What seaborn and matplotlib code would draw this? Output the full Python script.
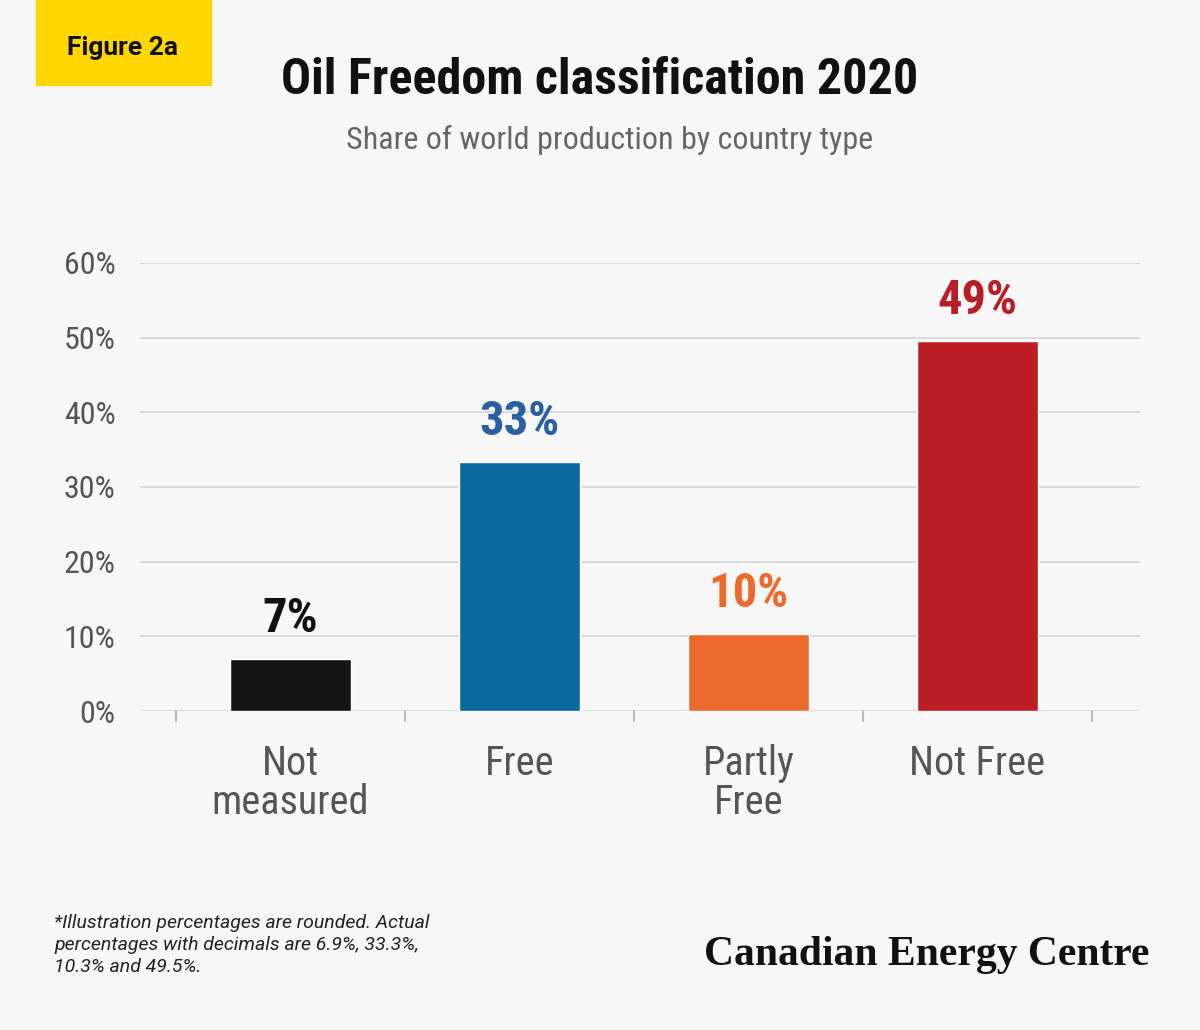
import matplotlib
matplotlib.use("Agg")
import matplotlib.pyplot as plt
import seaborn as sns
import pandas as pd
from matplotlib.patches import Rectangle

categories = ["Not\nmeasured", "Free", "Partly\nFree", "Not Free"]
shares = [6.9, 33.3, 10.3, 49.5]
labels = ["7%", "33%", "10%", "49%"]
bar_colors = ["#161616", "#0a6aa0", "#ec6a2e", "#bd1e26"]
label_colors = ["#111111", "#2a5fa0", "#ec6a2e", "#b81e26"]
yticks = [0, 10, 20, 30, 40, 50, 60]

sns.set_style("white")
cond = ["Roboto Condensed", "Roboto", "DejaVu Sans"]
plt.rcParams["font.family"] = cond

bg = "#f7f7f7"
fig = plt.figure(figsize=(12, 10.3), dpi=100, facecolor=bg)
ax = fig.add_axes([0.117, 0.3097, 0.833, 0.435], facecolor=bg)

df = pd.DataFrame({"cat": categories, "share": shares})
sns.barplot(data=df, x="cat", y="share", hue="cat", palette=bar_colors,
            saturation=1, width=0.53, legend=False, ax=ax, zorder=3)

ax.set_ylim(0, 60)
ax.set_xlim(-0.655, 3.71)
ax.set_yticks(yticks)
ax.set_yticklabels([f"{v}%" for v in yticks], fontsize=23, color="#555555")
for y in yticks:
    ax.axhline(y, color="#d8d8d8", lw=1.3, zorder=1)
ax.set_xticks([0, 1, 2, 3])
ax.set_xticklabels(categories, fontsize=29, color="#555555", linespacing=1.0)
ax.tick_params(axis="x", length=0, pad=24)
ax.tick_params(axis="y", length=0, pad=18)
for b in [-0.5, 0.5, 1.5, 2.5, 3.5]:
    ax.plot([b, b], [0, -1.3], color="#bbbbbb", lw=1.5, clip_on=False)
ax.set_xlabel("")
ax.set_ylabel("")
for s in ax.spines.values():
    s.set_visible(False)

for i, (v, lab) in enumerate(zip(shares, labels)):
    ax.text(i, v + 2.3, lab, ha="center", va="bottom", fontsize=35,
            fontweight="bold", color=label_colors[i])

fig.patches.append(Rectangle((36 / 1200, 1 - 85 / 1030), 175 / 1200, 85 / 1030,
                             transform=fig.transFigure, color="#ffd600", zorder=0))
fig.text(123 / 1200, 1 - 48 / 1030, "Figure 2a", ha="center", va="center",
         fontsize=19, fontweight="bold", family=["Roboto", "DejaVu Sans"], color="#111111")
fig.text(600 / 1200, 1 - 80 / 1030, "Oil Freedom classification 2020", ha="center",
         va="center", fontsize=36, fontweight="bold", color="#111111")
fig.text(610 / 1200, 1 - 140 / 1030, "Share of world production by country type",
         ha="center", va="center", fontsize=23, color="#666666")
fig.text(54 / 1200, 1 - 945 / 1030,
         "*Illustration percentages are rounded. Actual\npercentages with decimals are 6.9%, 33.3%,\n10.3% and 49.5%.",
         ha="left", va="center", fontsize=14, style="italic",
         family=["Roboto", "DejaVu Sans"], color="#222222", linespacing=1.3)
fig.text(1150 / 1200, 1 - 955 / 1030, "Canadian Energy Centre", ha="right", va="center",
         fontsize=30, fontweight="bold", family=["Liberation Serif", "DejaVu Serif"],
         color="#111111")

fig.savefig("out.png", dpi=100, facecolor=bg)
